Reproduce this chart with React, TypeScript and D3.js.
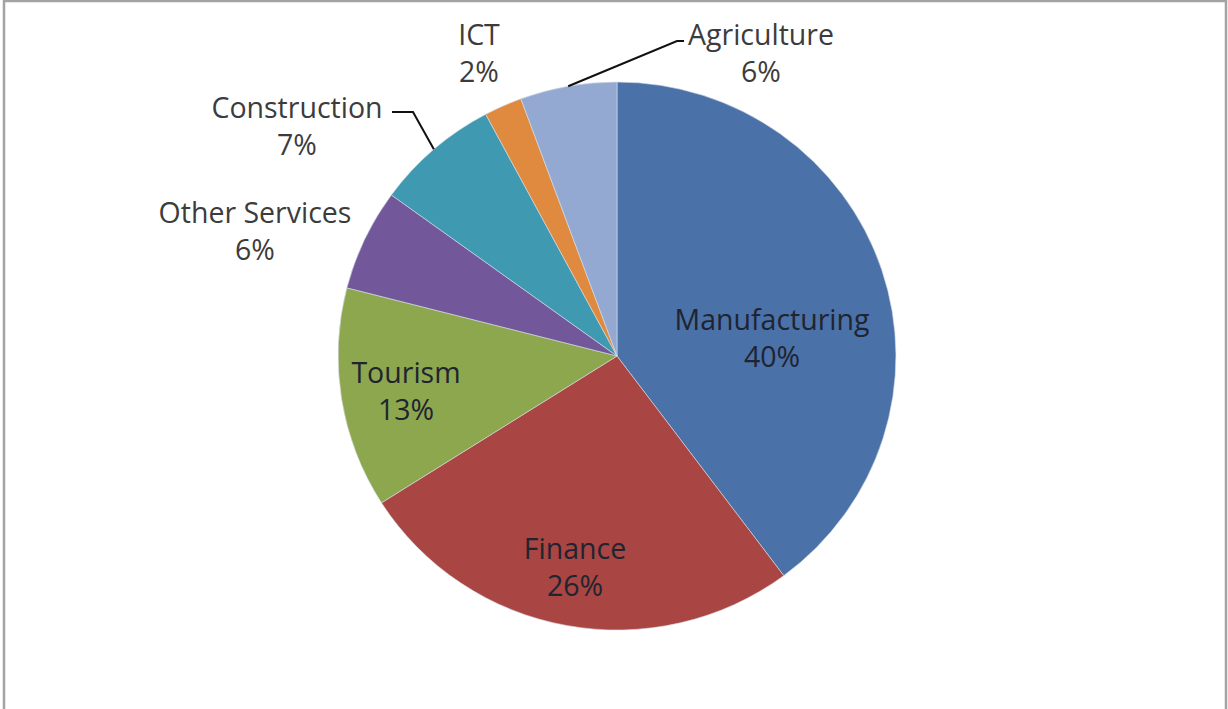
import {useEffect, useRef} from "react";
import * as d3 from "d3";

// sector shares (percent), clockwise from 12 o'clock
const sectors = ["Manufacturing", "Finance", "Tourism", "Other Services", "Construction", "ICT", "Agriculture"];
const shares = [39.8, 26.2, 13.0, 6.0, 7.2, 2.2, 5.6];
const colors = ["#4A71A8", "#A94542", "#8CA74E", "#72589A", "#3F9AB1", "#DF8A3F", "#93A9D2"];

// label anchors (centre of the two text lines) and optional leader bend points
const labelLayout = [
  {x: 772, y: 347, inside: true, leader: null},
  {x: 575, y: 576, inside: true, leader: null},
  {x: 406, y: 400, inside: true, leader: null},
  {x: 255, y: 240, inside: false, leader: null},
  {x: 297, y: 135, inside: false, leader: [[413, 112], [392, 112]]},
  {x: 479, y: 62, inside: false, leader: null},
  {x: 761, y: 62, inside: false, leader: [[677, 41], [684, 41]]}
];

const W = 1228;
const H = 709;
const cx = 617;
const cy = 356;
const R = 274;
const sx = 1.018; // the pie is slightly wider than tall

const App = () => {
  const ref = useRef<SVGSVGElement | null>(null);

  useEffect(() => {
    const svg = d3.select(ref.current);
    svg.selectAll("*").remove();

    // frame
    svg.append("rect")
      .attr("x", 4)
      .attr("y", 1)
      .attr("width", 1222)
      .attr("height", 730)
      .attr("fill", "white")
      .attr("stroke", "#a3a3a3")
      .attr("stroke-width", 2.5);

    const pie = d3.pie<number>().sort(null).value((d) => d);
    const arcs = pie(shares);
    const arc = d3.arc<d3.PieArcDatum<number>>().innerRadius(0).outerRadius(R);

    const g = svg.append("g")
      .attr("transform", `translate(${cx},${cy}) scale(${sx},1)`);

    g.selectAll("path")
      .data(arcs)
      .enter()
      .append("path")
      .attr("d", arc)
      .attr("fill", (_d, i) => colors[i])
      .attr("stroke", "#d8dde6")
      .attr("stroke-width", 0.6);

    // leader lines from slice edge to label
    arcs.forEach((a, i) => {
      const lay = labelLayout[i];
      if (!lay.leader) return;
      const mid = (a.startAngle + a.endAngle) / 2;
      const start: [number, number] = [cx + Math.sin(mid) * R * sx, cy - Math.cos(mid) * R];
      const pts = [start, ...(lay.leader as [number, number][])];
      svg.append("path")
        .attr("d", d3.line()(pts))
        .attr("fill", "none")
        .attr("stroke", "#111")
        .attr("stroke-width", 2);
    });

    // labels
    arcs.forEach((a, i) => {
      const lay = labelLayout[i];
      const t = svg.append("text")
        .attr("text-anchor", "middle")
        .attr("font-family", "'Open Sans', sans-serif")
        .attr("font-size", 28.5)
        .attr("fill", lay.inside ? "#1f2430" : "#3c3c3c");
      t.append("tspan")
        .attr("x", lay.x)
        .attr("y", lay.y - 17)
        .text(sectors[i]);
      t.append("tspan")
        .attr("x", lay.x)
        .attr("y", lay.y + 20)
        .text(Math.round(a.data) + "%");
    });
  }, []);

  return (
    <div style={{position: "absolute", left: 0, top: 0}}>
      <svg ref={ref} width={W} height={H}></svg>
    </div>
  );
};

export default App;
